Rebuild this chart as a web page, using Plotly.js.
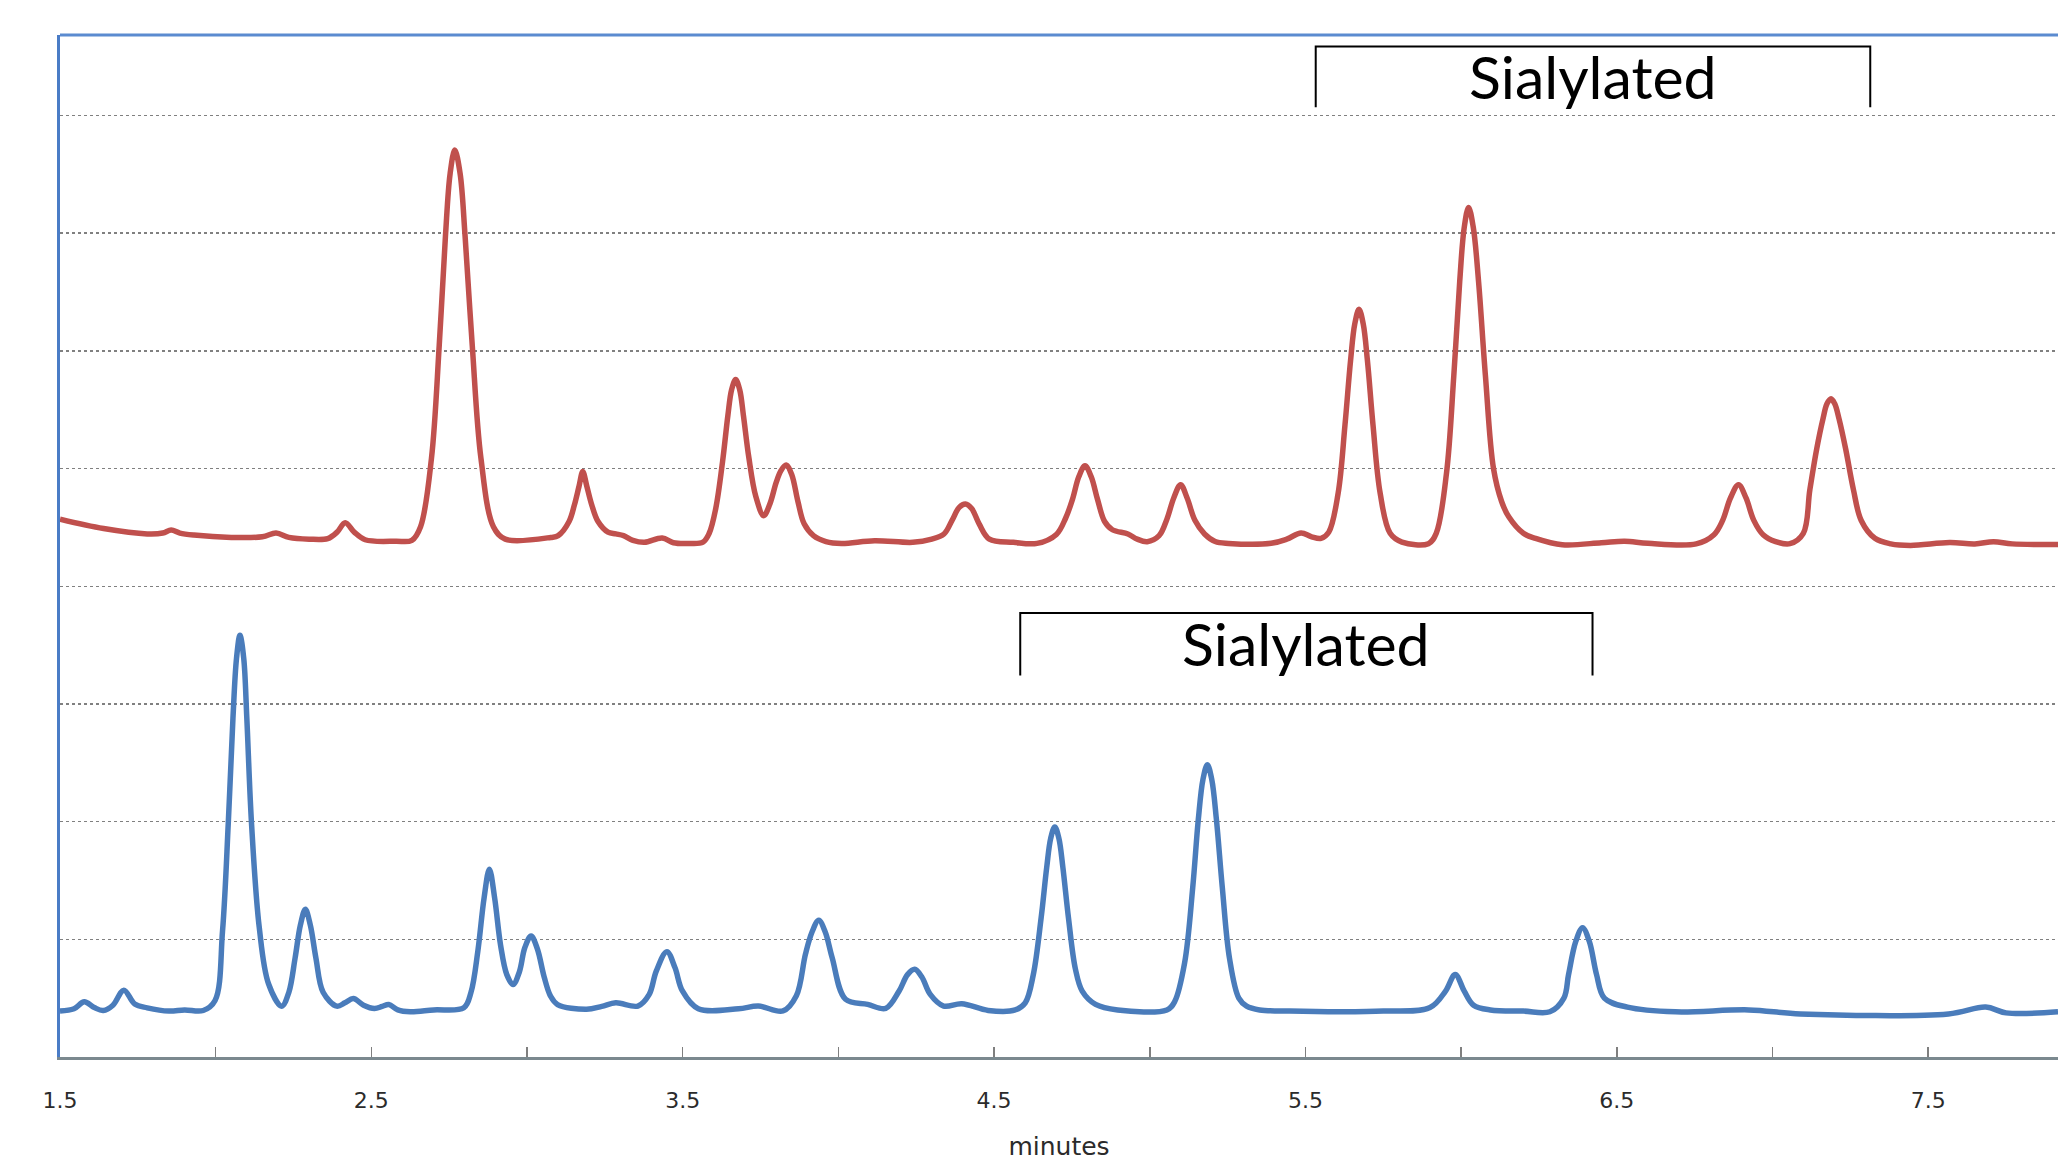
<!DOCTYPE html>
<html>
<head>
<meta charset="utf-8">
<script src="https://cdn.plot.ly/plotly-3.0.1.min.js"></script>
<style>html,body{margin:0;padding:0;background:#fff;}#chart{width:2058px;height:1163px;}</style>
</head>
<body>
<div id="chart"></div>
<script>
// ---- Data (x = minutes, y = signal in grid units) ----
const redX = [1.50,1.64,1.78,1.83,1.857,1.885,1.93,2.05,2.15,2.194,2.235,2.30,2.36,2.39,2.416,2.445,2.48,2.58,2.63,
  2.658,2.693,2.718,2.738,2.753,2.768,2.785,2.801,2.824,2.852,2.892,2.93,3.076,
  3.10,3.135,3.152,3.167,3.179,3.192,3.208,3.228,3.26,3.285,3.31,3.34,3.377,3.434,3.47,3.52,3.565,
  3.585,3.606,3.628,3.645,3.657,3.670,3.683,3.695,3.712,3.735,3.76,3.78,3.80,3.815,3.832,3.85,3.87,3.89,3.92,3.96,4.01,
  4.116,4.239,4.30,4.339,4.365,4.388,4.408,4.428,4.452,4.485,4.562,4.638,
  4.70,4.73,4.752,4.772,4.792,4.812,4.832,4.855,4.88,4.93,4.96,4.992,
  5.03,5.055,5.077,5.099,5.12,5.145,5.176,5.21,5.253,5.39,5.44,5.486,5.52,5.55,
  5.575,5.605,5.627,5.645,5.6585,5.672,5.6855,5.699,5.717,5.74,5.772,5.81,5.895,
  5.92,5.953,5.9765,5.9955,6.01,6.024,6.039,6.056,6.078,6.104,6.13,6.153,6.20,6.239,6.325,
  6.45,6.525,6.60,6.755,6.812,6.84,6.865,6.891,6.915,6.94,6.97,7.01,7.056,
  7.099,7.12,7.142,7.162,7.175,7.188,7.20,7.214,7.235,7.26,7.285,7.329,7.38,7.443,7.569,7.65,7.71,7.77,7.917];
const redY = [4.57,4.49,4.445,4.452,4.478,4.452,4.435,4.415,4.42,4.452,4.415,4.40,4.405,4.46,4.54,4.46,4.395,4.383,4.39,
  4.506,5.086,6.048,6.976,7.507,7.706,7.507,6.976,6.048,5.086,4.506,4.40,4.415,
  4.43,4.55,4.69,4.85,4.975,4.85,4.69,4.55,4.46,4.445,4.43,4.39,4.373,4.41,4.37,4.364,4.375,
  4.45,4.66,5.06,5.45,5.67,5.757,5.67,5.45,5.10,4.76,4.60,4.70,4.88,4.98,5.031,4.95,4.72,4.53,4.43,4.38,4.364,
  4.387,4.373,4.40,4.444,4.56,4.67,4.698,4.66,4.53,4.40,4.373,4.364,
  4.44,4.58,4.74,4.93,5.023,4.93,4.74,4.55,4.48,4.444,4.40,4.379,
  4.43,4.57,4.75,4.862,4.75,4.56,4.444,4.38,4.364,4.365,4.40,4.453,4.42,4.407,
  4.46,4.79,5.37,5.92,6.23,6.353,6.23,5.92,5.37,4.79,4.45,4.375,4.362,
  4.45,4.96,5.79,6.59,7.05,7.219,7.05,6.59,5.79,5.0,4.72,4.59,4.45,4.407,4.353,
  4.37,4.383,4.365,4.36,4.438,4.56,4.75,4.863,4.75,4.56,4.438,4.38,4.362,
  4.45,4.82,5.167,5.42,5.55,5.593,5.55,5.42,5.167,4.82,4.559,4.407,4.36,4.347,4.371,4.36,4.378,4.36,4.355];

const blueX = [1.50,1.545,1.578,1.61,1.639,1.67,1.705,1.74,1.78,1.85,1.90,1.96,
  1.998,2.022,2.0405,2.0555,2.067,2.078,2.09,2.10,2.115,2.14,2.17,2.212,
  2.235,2.255,2.272,2.288,2.304,2.322,2.345,2.389,2.415,2.442,2.475,2.51,2.535,2.556,2.585,2.625,2.70,2.797,
  2.82,2.842,2.862,2.879,2.896,2.915,2.935,2.955,2.975,2.993,3.013,3.033,3.055,3.075,3.098,
  3.191,3.24,3.285,3.356,3.392,3.415,3.449,3.475,3.499,3.55,3.679,3.743,3.822,
  3.865,3.894,3.915,3.937,3.958,3.98,4.023,4.094,4.152,4.195,4.222,4.245,4.268,4.295,4.338,4.396,4.481,4.568,
  4.60,4.626,4.651,4.669,4.682,4.695,4.708,4.721,4.739,4.761,4.783,4.826,4.897,5.055,
  5.08,5.112,5.138,5.156,5.171,5.185,5.199,5.214,5.233,5.256,5.286,5.311,5.353,5.45,5.62,5.75,
  5.90,5.95,5.981,6.01,6.04,6.094,6.20,6.285,6.33,6.345,6.368,6.39,6.412,6.435,6.46,6.534,6.688,6.924,7.09,7.565,7.685,7.75,7.917];
const blueY = [0.39,0.41,0.469,0.42,0.395,0.44,0.568,0.45,0.418,0.39,0.40,0.395,
  0.48,1.07,1.99,2.88,3.39,3.583,3.39,2.88,1.99,1.10,0.62,0.432,
  0.55,0.84,1.12,1.255,1.12,0.84,0.55,0.432,0.46,0.497,0.44,0.412,0.43,0.446,0.40,0.384,0.40,0.418,
  0.55,0.90,1.35,1.596,1.35,0.95,0.70,0.616,0.72,0.93,1.028,0.92,0.68,0.52,0.446,
  0.405,0.43,0.46,0.433,0.53,0.73,0.895,0.76,0.561,0.41,0.41,0.433,0.391,
  0.52,0.872,1.06,1.162,1.06,0.844,0.49,0.447,0.413,0.561,0.70,0.745,0.68,0.532,0.433,0.453,0.396,0.40,
  0.46,0.70,1.18,1.61,1.86,1.955,1.86,1.61,1.18,0.75,0.56,0.447,0.399,0.40,
  0.47,0.80,1.44,2.02,2.36,2.484,2.36,2.02,1.44,0.84,0.50,0.432,0.40,0.39,0.384,0.39,
  0.42,0.56,0.702,0.56,0.44,0.40,0.39,0.384,0.50,0.70,0.98,1.099,0.98,0.70,0.50,0.424,0.384,0.40,0.366,0.366,0.424,0.375,0.384];

const xTickVals = [1.5,2.0,2.5,3.0,3.5,4.0,4.5,5.0,5.5,6.0,6.5,7.0,7.5];
const xTickText = ['1.5','','2.5','','3.5','','4.5','','5.5','','6.5','','7.5'];
const yGridVals = [1,2,3,4,5,6,7,8];

// Bracket annotations: [x start, x end, y leg bottom, y top]
const bracketTop = [5.533, 7.314, 8.07, 8.587];
const bracketBottom = [4.584, 6.422, 3.242, 3.773];
const labelText = ['Sialylated', 'Sialylated'];
const labelX = [6.422, 5.502];
const labelY = [8.328, 3.512];

function bracketPath(b) {
  return 'M ' + b[0] + ',' + b[2] + ' L ' + b[0] + ',' + b[3] + ' L ' + b[1] + ',' + b[3] + ' L ' + b[1] + ',' + b[2];
}

const traces = [
  {x: redX, y: redY, type: 'scatter', mode: 'lines', name: 'Red',
   line: {color: '#c0504d', width: 5.5, shape: 'spline', smoothing: 1}, hoverinfo: 'skip'},
  {x: blueX, y: blueY, type: 'scatter', mode: 'lines', name: 'Blue',
   line: {color: '#4a7cbb', width: 5.5, shape: 'spline', smoothing: 1}, hoverinfo: 'skip'}
];

const layout = {
  width: 2058, height: 1163,
  margin: {l: 60, r: 0, t: 35, b: 106, pad: 0},
  paper_bgcolor: '#ffffff', plot_bgcolor: '#ffffff',
  showlegend: false,
  xaxis: {
    range: [1.5, 7.917], tickmode: 'array', tickvals: xTickVals, ticktext: xTickText,
    ticks: 'inside', ticklen: 10, tickcolor: '#7f7f7f', tickwidth: 1.5,
    showline: true, linecolor: '#7b898f', linewidth: 3,
    showgrid: false, zeroline: false,
    tickfont: {family: 'DejaVu Sans', size: 22, color: '#2b2b2b'},
    ticklabelstandoff: 22,
    title: {text: 'minutes', font: {family: 'DejaVu Sans', size: 25, color: '#2b2b2b'}, standoff: 26},
    automargin: false, fixedrange: true
  },
  yaxis: {
    range: [0, 8.684], tickmode: 'array', tickvals: yGridVals, showticklabels: false, ticks: '',
    showgrid: true, gridcolor: '#808080', griddash: 'dot', gridwidth: 1.5,
    zeroline: false, showline: true, linecolor: '#4a7cc6', linewidth: 3,
    automargin: false, fixedrange: true
  },
  shapes: [
    {type: 'line', xref: 'paper', yref: 'paper', x0: 0, x1: 1, y0: 1, y1: 1, line: {color: '#5b8bd0', width: 3}},
    {type: 'path', xref: 'x', yref: 'y', path: bracketPath(bracketTop), line: {color: '#000000', width: 2}},
    {type: 'path', xref: 'x', yref: 'y', path: bracketPath(bracketBottom), line: {color: '#000000', width: 2}}
  ],
  annotations: labelText.map((t, i) => ({
    text: t, x: labelX[i], y: labelY[i], xref: 'x', yref: 'y', showarrow: false,
    xanchor: 'center', yanchor: 'middle',
    font: {family: 'Lato', size: 59, color: '#000000'}
  }))
};

Plotly.newPlot('chart', traces, layout, {displayModeBar: false, staticPlot: true});
</script>
</body>
</html>
